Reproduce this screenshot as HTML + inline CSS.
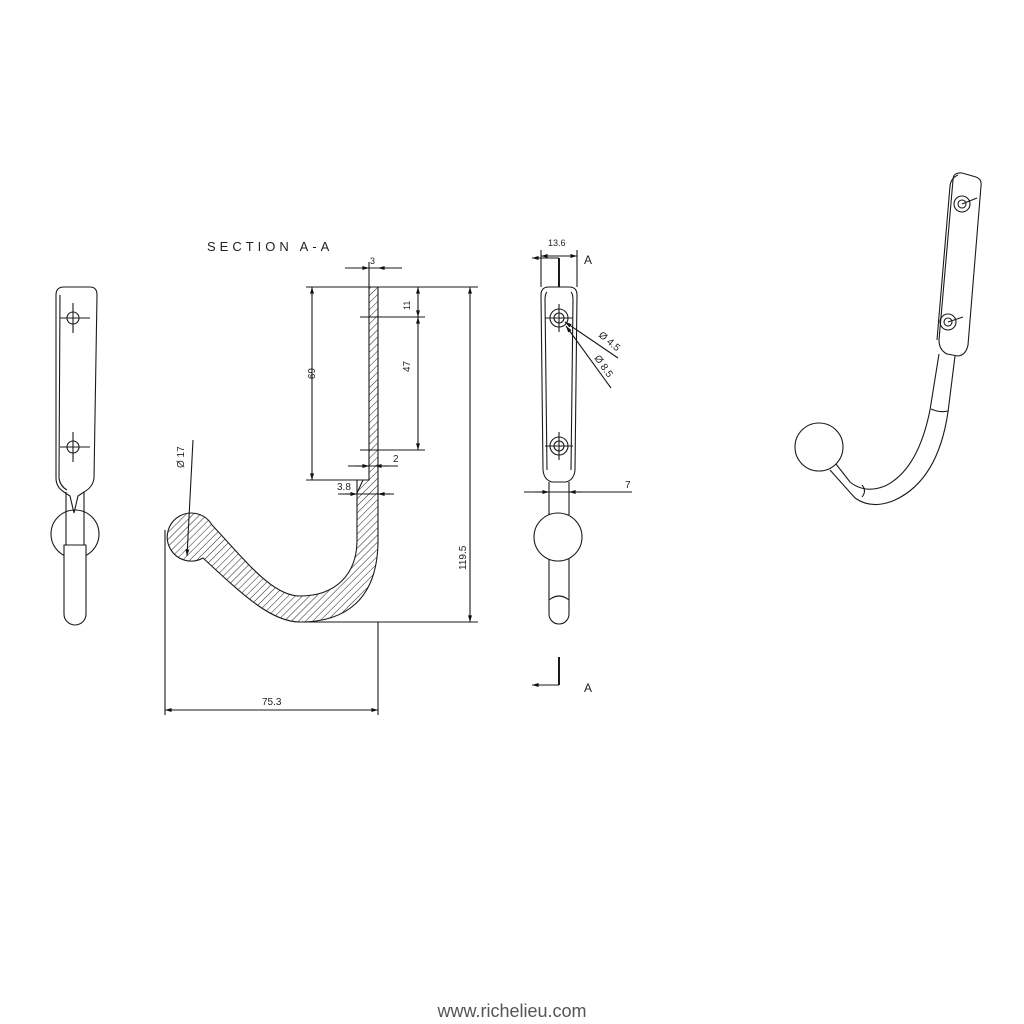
<!DOCTYPE html>
<html><head><meta charset="utf-8"><style>
html,body{margin:0;padding:0;background:#fff;width:1024px;height:1024px;overflow:hidden}
svg{display:block}
text{font-family:"Liberation Sans",sans-serif;fill:#222}
</style></head><body>
<svg width="1024" height="1024" viewBox="0 0 1024 1024" xmlns="http://www.w3.org/2000/svg">
<defs>
<pattern id="h" patternUnits="userSpaceOnUse" width="5" height="5" patternTransform="rotate(45)">
<line x1="0" y1="0" x2="0" y2="5" stroke="#222" stroke-width="1"/>
</pattern>
<marker id="a" viewBox="0 0 10 10" refX="10" refY="5" markerWidth="8" markerHeight="6" orient="auto-start-reverse"><path d="M0,2 L10,5 L0,8z" fill="#111"/></marker>
</defs>
<g stroke="#1a1a1a" fill="none" stroke-width="1.1">

<!-- SECTION A-A -->
<path d="M369,287 L378,287 L378,540 C378,600 345,622 300,622 C272,622 245,597 203,558 A24,24 0 1 1 212,525 C245,560 272,596 300,596 C335,596 357,575 357,540 L357,493 L363,480 L369,480 Z" fill="url(#h)"/>
<line x1="378" y1="622" x2="378" y2="715"/>
<line x1="345" y1="268" x2="402" y2="268"/>
<line x1="369" y1="262" x2="369" y2="287"/>
<line x1="352" y1="268" x2="369" y2="268" marker-end="url(#a)"/>
<line x1="395" y1="268" x2="378" y2="268" marker-end="url(#a)"/>
<line x1="306" y1="287" x2="369" y2="287"/>
<line x1="306" y1="480" x2="363" y2="480"/>
<line x1="312" y1="287" x2="312" y2="480" marker-start="url(#a)" marker-end="url(#a)"/>
<line x1="378" y1="287" x2="478" y2="287"/>
<line x1="360" y1="317" x2="425" y2="317"/>
<line x1="360" y1="450" x2="425" y2="450"/>
<line x1="418" y1="287" x2="418" y2="317" marker-start="url(#a)" marker-end="url(#a)"/>
<line x1="418" y1="317" x2="418" y2="450" marker-start="url(#a)" marker-end="url(#a)"/>
<line x1="348" y1="466" x2="398" y2="466"/>
<line x1="355" y1="466" x2="369" y2="466" marker-end="url(#a)"/>
<line x1="389" y1="466" x2="375" y2="466" marker-end="url(#a)"/>
<line x1="338" y1="494" x2="394" y2="494"/>
<line x1="357" y1="480" x2="357" y2="494"/>
<line x1="345" y1="494" x2="357" y2="494" marker-end="url(#a)"/>
<line x1="390" y1="494" x2="378" y2="494" marker-end="url(#a)"/>
<line x1="300" y1="622" x2="478" y2="622"/>
<line x1="470" y1="287" x2="470" y2="622" marker-start="url(#a)" marker-end="url(#a)"/>
<line x1="165" y1="530" x2="165" y2="715"/>
<line x1="165" y1="710" x2="378" y2="710" marker-start="url(#a)" marker-end="url(#a)"/>
<line x1="193" y1="440" x2="187" y2="556" marker-end="url(#a)"/>

<!-- FRONT VIEW -->
<path d="M549,287 L569,287 Q577,287 577,295 L575,470 Q574,480 566,482 L552,482 Q544,480 543,470 L541,295 Q541,287 549,287 Z"/>
<path d="M547,292 Q545,294 545,300 L547,470"/>
<path d="M571,292 Q573,294 573,300 L571,470"/>
<circle cx="559" cy="318" r="9"/><circle cx="559" cy="318" r="5"/>
<line x1="545" y1="318" x2="573" y2="318"/><line x1="559" y1="304" x2="559" y2="332"/>
<circle cx="559" cy="446" r="9"/><circle cx="559" cy="446" r="5"/>
<line x1="545" y1="446" x2="573" y2="446"/><line x1="559" y1="432" x2="559" y2="460"/>
<line x1="549" y1="482" x2="549" y2="515"/><line x1="569" y1="482" x2="569" y2="515"/>
<circle cx="558" cy="537" r="24"/>
<path d="M549,559 L549,614 A10,10 0 0 0 569,614 L569,559"/>
<path d="M549,600 Q559,592 569,600"/>
<line x1="541" y1="250" x2="541" y2="287"/><line x1="577" y1="250" x2="577" y2="287"/>
<line x1="541" y1="256" x2="577" y2="256" marker-start="url(#a)" marker-end="url(#a)"/>
<line x1="559" y1="258" x2="559" y2="287" stroke-width="2"/>
<line x1="559" y1="258" x2="532" y2="258" marker-end="url(#a)"/>
<line x1="559" y1="657" x2="559" y2="685" stroke-width="2"/>
<line x1="559" y1="685" x2="532" y2="685" marker-end="url(#a)"/>
<line x1="524" y1="492" x2="632" y2="492"/>
<line x1="535" y1="492" x2="549" y2="492" marker-end="url(#a)"/>
<line x1="582" y1="492" x2="569" y2="492" marker-end="url(#a)"/>
<line x1="618" y1="358" x2="565" y2="322" marker-end="url(#a)"/>
<line x1="611" y1="388" x2="566" y2="326" marker-end="url(#a)"/>

<!-- LEFT VIEW -->
<path d="M64,287 L90,287 Q97,287 97,295 L94,478 Q93,487 84,492 L78,496 L74,513 L70,496 L64,492 Q56,487 56,478 L56,295 Q56,287 64,287 Z"/>
<path d="M60,295 L59,478 Q60,486 67,490"/>
<circle cx="73" cy="318" r="6"/><line x1="60" y1="318" x2="90" y2="318"/><line x1="73" y1="303" x2="73" y2="333"/>
<circle cx="73" cy="447" r="6"/><line x1="60" y1="447" x2="90" y2="447"/><line x1="73" y1="432" x2="73" y2="462"/>
<line x1="66" y1="492" x2="66" y2="545"/><line x1="84" y1="492" x2="84" y2="545"/>
<circle cx="75" cy="534" r="24"/>
<path d="M64,545 L64,614 A11,11 0 0 0 86,614 L86,545 Z" fill="#fff"/>

<!-- ISO VIEW -->
<path d="M953,180 Q953,172 962,173 L976,177 Q982,179 981,186 L968,345 Q966,355 958,356 L947,354 Q939,350 939,340 Z"/>
<path d="M958,175 Q951,178 950,186 L937,340"/>
<circle cx="962" cy="204" r="8"/><circle cx="962" cy="204" r="4"/><line x1="962" y1="204" x2="977" y2="198"/>
<circle cx="948" cy="322" r="8"/><circle cx="948" cy="322" r="4"/><line x1="948" y1="322" x2="963" y2="317"/>
<path d="M939,354 L930,410 Q918,470 885,486 Q865,494 850,482 L836,464"/>
<path d="M955,356 L948,412 Q938,480 895,500 Q872,510 855,498 L830,470"/>
<path d="M931,409 Q940,413 948,411"/>
<path d="M862,485 Q867,491 862,497"/>
<circle cx="819" cy="447" r="24" fill="#fff"/>
</g>

<g font-size="11">
<text x="207" y="251" font-size="13" letter-spacing="4">SECTION A-A</text>
<text x="370" y="264" font-size="9">3</text>
<text x="308" y="368" font-size="10" transform="rotate(90 308 368)">69</text>
<text x="410" y="296" font-size="9" transform="rotate(-90 410 296) translate(-14 0)">11</text>
<text x="410" y="372" font-size="10" transform="rotate(-90 410 372)">47</text>
<text x="393" y="462" font-size="10">2</text>
<text x="337" y="490" font-size="10">3.8</text>
<text x="466" y="570" font-size="10" transform="rotate(-90 466 570)">119.5</text>
<text x="262" y="705" font-size="10">75.3</text>
<text x="184" y="468" font-size="10" transform="rotate(-90 184 468)">Ø 17</text>
<text x="548" y="246" font-size="9">13.6</text>
<text x="584" y="264" font-size="12">A</text>
<text x="584" y="692" font-size="12">A</text>
<text x="625" y="488" font-size="10">7</text>
<text x="598" y="336" font-size="10" transform="rotate(40 598 336)">Ø 4.5</text>
<text x="594" y="358" font-size="10" transform="rotate(55 594 358)">Ø 8.5</text>
</g>
<text x="512" y="1017" text-anchor="middle" font-size="18" style="fill:#555">www.richelieu.com</text>
</svg>
</body></html>
